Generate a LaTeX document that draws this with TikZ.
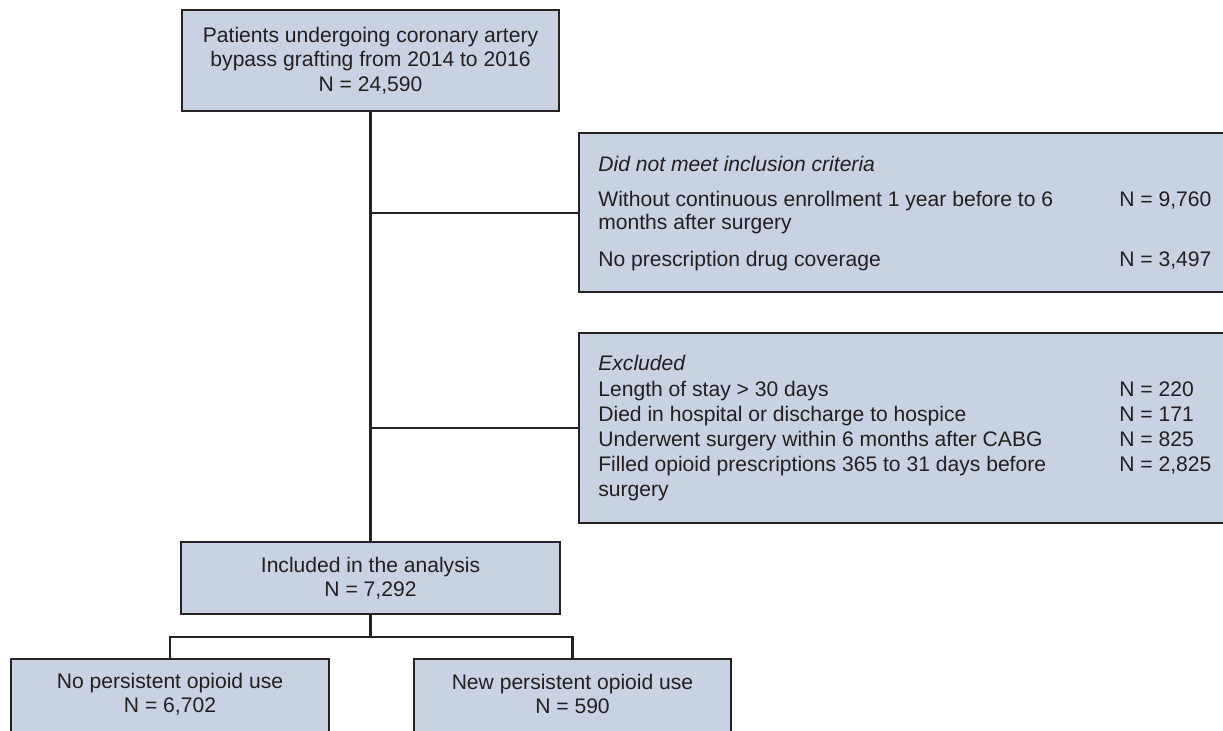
\documentclass[tikz,border=0pt]{standalone}
\usepackage{fontspec}
\setmainfont{Liberation Sans}
\definecolor{boxfill}{RGB}{201,210,227}
\definecolor{boxline}{RGB}{38,34,35}
\definecolor{txtcol}{RGB}{35,31,32}
\tikzset{
  flowbox/.style={rectangle, draw=boxline, line width=1.25pt, fill=boxfill, inner sep=0pt, align=center, text=txtcol},
  rowtxt/.style={anchor=base west, inner sep=0pt, text=txtcol},
  midtxt/.style={inner sep=0pt, align=center, text=txtcol},
  link/.style={draw=boxline, line width=1.25pt}
}

\begin{document}
\begin{tikzpicture}[x=0.2mm, y=-0.2mm, font=\fontsize{12}{13.8}\selectfont]
  \useasboundingbox (0,0) rectangle (1223,730);
  % Main column.
  \node[flowbox, minimum width=7.54cm, minimum height=2.02cm] (top) at (370.5,60.5)
    {Patients undergoing coronary artery\\bypass grafting from 2014 to 2016\\N = 24,590};
  \node[flowbox, minimum width=7.58cm, minimum height=1.44cm] (incl) at (370.5,578)
    {Included in the analysis\\N = 7,292};
  % Side boxes.
  \node[flowbox, anchor=north west, minimum width=14cm, minimum height=3.18cm] (crit) at (578,132) {};
  \node[flowbox, anchor=north west, minimum width=14cm, minimum height=3.8cm] (excl) at (578,332) {};
  % Outcome boxes.
  \node[flowbox, anchor=north, minimum width=6.36cm, minimum height=2cm] (nopers) at (170,658) {};
  \node[flowbox, anchor=north, minimum width=6.34cm, minimum height=2cm] (newpers) at (572.5,658) {};
  \node[midtxt] (noperstxt) at (170,694) {No persistent opioid use\\N = 6,702};
  \node[midtxt] (newperstxt) at (572.5,694) {New persistent opioid use\\N = 590};
  % Inclusion criteria.
  \node[rowtxt, font=\fontsize{12}{13.8}\selectfont\itshape] (crithead) at (598,172) {Did not meet inclusion criteria};
  \node[rowtxt] (enroll) at (598,206) {Without continuous enrollment 1 year before to 6};
  \node[rowtxt] (enroll2) at (598,230) {months after surgery};
  \node[rowtxt] (enrolln) at (1119,206) {N = 9,760};
  \node[rowtxt] (drug) at (598,266) {No prescription drug coverage};
  \node[rowtxt] (drugn) at (1119,266) {N = 3,497};
  % Exclusions.
  \node[rowtxt, font=\fontsize{12}{13.8}\selectfont\itshape] (exclhead) at (598,370) {Excluded};
  \foreach \y/\txt/\cnt in {396/{Length of stay > 30 days}/220,
                            421/{Died in hospital or discharge to hospice}/171,
                            446/{Underwent surgery within 6 months after CABG}/825,
                            471/{Filled opioid prescriptions 365 to 31 days before}/{2,825}}
  {
    \node[rowtxt] (exrow\y) at (598,\y) {\txt};
    \node[rowtxt] (exn\y) at (1119,\y) {N = \cnt};
  }
  \node[rowtxt] (exrow496) at (598,496) {surgery};
  % Connectors.
  \draw[link] (top.south) -- (incl.north);
  \draw[link] (crit.west) -- (crit.west -| top.south);
  \draw[link] (excl.west) -- (excl.west -| top.south);
  \draw[link] (incl.south) -- ++(0,22) coordinate (split);
  \draw[link] (nopers.north) |- (split) -| (newpers.north);
\end{tikzpicture}
\end{document}
